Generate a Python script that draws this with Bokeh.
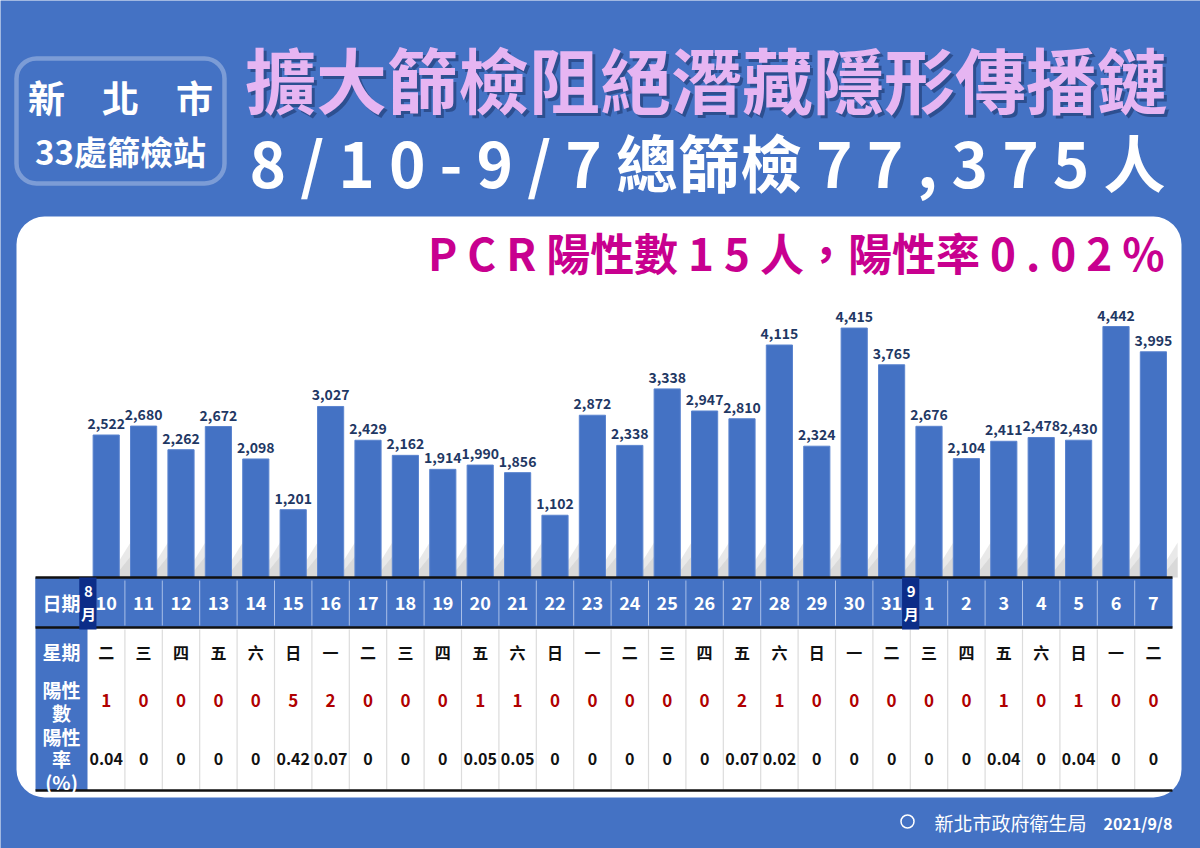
from bokeh.plotting import figure
from bokeh.models import Range1d, BoxAnnotation, ColumnDataSource
from bokeh.core.properties import value
from bokeh.embed import file_html
from bokeh.resources import INLINE

# ---------------- data ----------------
dates = ["10", "11", "12", "13", "14", "15", "16", "17", "18", "19", "20", "21", "22",
         "23", "24", "25", "26", "27", "28", "29", "30", "31",
         "1", "2", "3", "4", "5", "6", "7"]
weekdays = ["二", "三", "四", "五", "六", "日", "一", "二", "三", "四", "五", "六", "日",
            "一", "二", "三", "四", "五", "六", "日", "一", "二",
            "三", "四", "五", "六", "日", "一", "二"]
screened = [2522, 2680, 2262, 2672, 2098, 1201, 3027, 2429, 2162, 1914, 1990, 1856, 1102,
            2872, 2338, 3338, 2947, 2810, 4115, 2324, 4415, 3765,
            2676, 2104, 2411, 2478, 2430, 4442, 3995]
positives = [1, 0, 0, 0, 0, 5, 2, 0, 0, 0, 1, 1, 0,
             0, 0, 0, 0, 2, 1, 0, 0, 0,
             0, 0, 1, 0, 1, 0, 0]
rates = ["0.04", "0", "0", "0", "0", "0.42", "0.07", "0", "0", "0", "0.05", "0.05", "0",
         "0", "0", "0", "0", "0.07", "0.02", "0", "0", "0",
         "0", "0", "0.04", "0", "0.04", "0", "0"]
month_starts = [("8", 0), ("9", 22)]   # month label, index of first day of that month

title1 = "擴大篩檢阻絕潛藏隱形傳播鏈"
title2 = "8 / 1 0 - 9 / 7 總篩檢 7 7 , 3 7 5 人"
subtitle = "P C R 陽性數 1 5 人，陽性率 0 . 0 2 %"
box_line1 = "新\u3000北\u3000市"
box_line2 = "33處篩檢站"
row_header_lines = ["日期", "星期", "陽性", "數", "陽性", "率", "(%)"]
footer_org = "新北市政府衛生局"
footer_date = "2021/9/8"

# ---------------- style ----------------
FONT = value("Noto Sans CJK TC")
BLUE = "#4472c4"
NAVY = "#1f3864"
n = len(dates)
W, H = 1200, 848

# pixel-like base coordinates (y downward)
p = figure(width=W, height=H, x_range=Range1d(0, W), y_range=Range1d(H, 0),
           output_backend="svg", toolbar_location=None,
           x_axis_location=None, y_axis_location=None, min_border=0,
           background_fill_color=BLUE, border_fill_color=BLUE, outline_line_color=None)
p.xgrid.visible = False
p.ygrid.visible = False

# layout of the table / bar area
col_left, col_w = 87.0, 37.4
base_px, px_per_unit = 577.0, 0.0565
p.extra_x_ranges = {"idx": Range1d((0 - col_left) / col_w - 0.5, (W - col_left) / col_w - 0.5)}
p.extra_y_ranges = {"val": Range1d(-(H - base_px) / px_per_unit, (base_px - 0) / px_per_unit)}

# white rounded panel and header box
p.add_layout(BoxAnnotation(left=16, right=1181, top=216, bottom=797, border_radius=28,
                           fill_color="white", fill_alpha=1, line_color=None, level="underlay"))
p.add_layout(BoxAnnotation(left=16, right=224, top=58, bottom=183, border_radius=20,
                           fill_alpha=0, line_color="white", line_width=4.5, level="underlay"))

# ---------------- titles ----------------
p.text(x=[120], y=[96], text=[box_line1], text_font=FONT, text_font_style="bold",
       text_font_size="37px", text_color="white", text_align="center", text_baseline="middle")
p.text(x=[120], y=[150], text=[box_line2], text_font=FONT, text_font_style="bold",
       text_font_size="33px", text_color="white", text_align="center", text_baseline="middle")

p.text(x=[706], y=[76], text=[title1], text_font=FONT, text_font_style="bold",
       text_font_size="71px", text_color="#1c3366", text_alpha=0.55, x_offset=3, y_offset=3,
       text_align="center", text_baseline="middle")
p.text(x=[706], y=[76], text=[title1], text_font=FONT, text_font_style="bold",
       text_font_size="71px", text_color="#e6b5f2", text_align="center", text_baseline="middle")
p.text(x=[707], y=[160], text=[title2], text_font=FONT, text_font_style="bold",
       text_font_size="62px", text_color="white", text_align="center", text_baseline="middle")
p.text(x=[1164], y=[251], text=[subtitle], text_font=FONT, text_font_style="bold",
       text_font_size="44px", text_color="#c8008f", text_align="right", text_baseline="middle")

# ---------------- bars ----------------
src = ColumnDataSource(dict(i=list(range(n)), v=screened,
                            lab=[f"{v:,}" for v in screened],
                            d=dates, w=weekdays, pos=[str(x) for x in positives], r=rates))

# faint diagonal reflections between bars
gx = [[i + 0.35, i + 0.65, i + 0.65, i + 0.35] for i in range(n)]
gy1 = [[577, 577, 542, 560] for _ in range(n)]
gy2 = [[577, 577, 556, 570] for _ in range(n)]
p.patches(xs=gx, ys=gy1, x_range_name="idx", fill_color="#cfcfcf", fill_alpha=0.45, line_color=None)
p.patches(xs=gx, ys=gy2, x_range_name="idx", fill_color="#bdbdbd", fill_alpha=0.35, line_color=None)

p.vbar(x="i", top="v", bottom=0, width=0.7, source=src, x_range_name="idx", y_range_name="val",
       fill_color=BLUE, line_color="#5b84cf", line_width=1)
p.text(x="i", y="v", text="lab", source=src, x_range_name="idx", y_range_name="val",
       text_font=FONT, text_font_style="bold", text_font_size="14px", text_color=NAVY,
       text_align="center", text_baseline="bottom", y_offset=-6)

# ---------------- table ----------------
tbl_left, tbl_right = 35, 1172
y_top, y_head, y_bot = 577, 627, 790
p.quad(left=[tbl_left], right=[tbl_right], top=[y_top], bottom=[y_head],
       fill_color=BLUE, line_color=None)
p.quad(left=[tbl_left], right=[col_left], top=[y_top], bottom=[y_bot],
       fill_color=BLUE, line_color=None)

bounds = [i + 0.5 for i in range(n - 1)]
p.segment(x0=bounds, x1=bounds, y0=[580] * len(bounds), y1=[625] * len(bounds),
          x_range_name="idx", line_color="#a9bfe8", line_width=1)
p.segment(x0=bounds, x1=bounds, y0=[629] * len(bounds), y1=[789] * len(bounds),
          x_range_name="idx", line_color="#dcdcdc", line_width=1.2)
p.segment(x0=[tbl_left] * 3, x1=[tbl_right] * 3, y0=[y_top, y_head, y_bot], y1=[y_top, y_head, y_bot],
          line_color="#111111", line_width=2.5)

# month markers
mx = [m[1] - 0.5 for m in month_starts]
p.quad(left=[x - 0.22 for x in mx], right=[x + 0.24 for x in mx], top=[y_top] * 2, bottom=[629] * 2,
       x_range_name="idx", fill_color="#0c2d88", line_color=None)
p.text(x=mx, y=[591] * 2, text=[m[0] for m in month_starts], x_range_name="idx",
       text_font=FONT, text_font_style="bold", text_font_size="15px", text_color="white",
       text_align="center", text_baseline="middle", x_offset=1)
p.text(x=mx, y=[613] * 2, text=["月"] * 2, x_range_name="idx",
       text_font=FONT, text_font_style="bold", text_font_size="15px", text_color="white",
       text_align="center", text_baseline="middle", x_offset=1)

common = dict(source=src, x_range_name="idx", text_font=FONT, text_font_style="bold",
              text_align="center", text_baseline="middle")
p.text(x="i", y=602, text="d", text_font_size="18px", text_color="white", **common)
p.text(x="i", y=651, text="w", text_font_size="16px", text_color="#111111", **common)
p.text(x="i", y=700, text="pos", text_font_size="17px", text_color="#b00000", **common)
p.text(x="i", y=758, text="r", text_font_size="16px", text_color="#111111", **common)

# row headers
p.text(x=[61] * len(row_header_lines), y=[602, 651, 689, 712, 736, 758, 781], text=row_header_lines,
       text_font=FONT, text_font_style="bold", text_font_size="19px", text_color="white",
       text_align="center", text_baseline="middle")

# ---------------- footer ----------------
p.scatter(x=[907], y=[821], marker="circle", size=13, fill_alpha=0, line_color="white", line_width=1.5)
p.text(x=[1086], y=[822], text=[footer_org], text_font=FONT, text_font_size="19px",
       text_color="white", text_align="right", text_baseline="middle")
p.text(x=[1172], y=[822], text=[footer_date], text_font=FONT, text_font_style="bold",
       text_font_size="16px", text_color="white", text_align="right", text_baseline="middle")

open("out.html", "w").write(file_html(p, INLINE))
